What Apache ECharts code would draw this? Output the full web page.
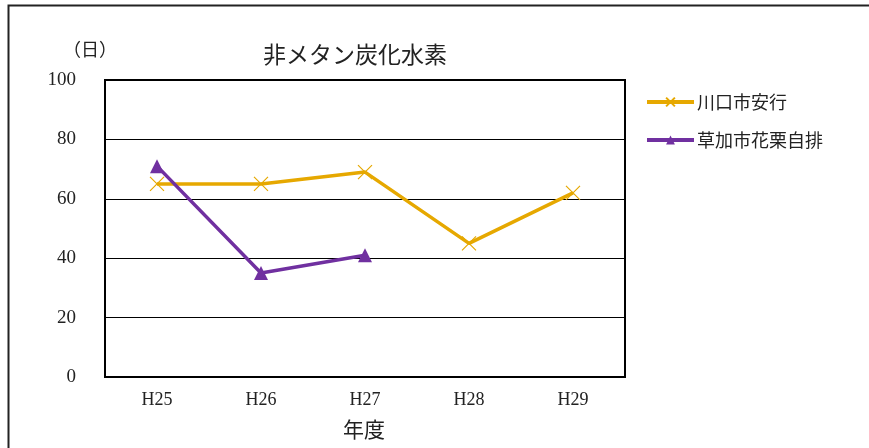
<!DOCTYPE html>
<html><head><meta charset="utf-8">
<script src="https://cdn.jsdelivr.net/npm/echarts@6/dist/echarts.min.js"></script>
<style>html,body{margin:0;padding:0;background:#fff}#c{width:869px;height:448px}</style>
</head><body><div id="c"></div>
<script>
const categories = ['H25','H26','H27','H28','H29'];
const kawaguchi = [65, 65, 69, 45, 62];
const soka = [71, 35, 41, null, null];
const yTicks = {min: 0, max: 100, interval: 20};
const seriesNames = ['川口市安行', '草加市花栗自排'];

const serif = '"Liberation Serif","DejaVu Serif",serif';
const cjk = '"Noto Sans CJK JP","Noto Sans CJK SC",sans-serif';
const chart = echarts.init(document.getElementById('c'));
chart.setOption({
  animation: false,
  backgroundColor: '#fff',
  title: {text: '非メタン炭化水素', left: 350, top: 38, textAlign: 'center',
    textStyle: {fontFamily: cjk, fontSize: 23, fontWeight: 'normal', color: '#222'}},
  graphic: [
    {type: 'rect', shape: {x: 8.5, y: 5.5, width: 900, height: 500}, style: {fill: 'none', stroke: '#222', lineWidth: 2}, z: -1},
    {type: 'text', left: 63, top: 40, style: {text: '（日）', font: '18px ' + cjk, fill: '#222'}},
    {type: 'text', left: 343, top: 419, style: {text: '年度', font: '21px ' + cjk, fill: '#222'}}
  ],
  legend: {orient: 'vertical', left: 640, top: 88, itemWidth: 47, itemHeight: 11, itemGap: 20,
    lineStyle: {width: 4},
    textStyle: {fontFamily: cjk, fontSize: 18, color: '#222', padding: [0, 0, 0, -2]},
    data: seriesNames},
  grid: {left: 105, right: 244, top: 80, bottom: 71, show: true, borderColor: '#000', borderWidth: 2, backgroundColor: 'transparent'},
  xAxis: {type: 'category', data: categories, boundaryGap: true,
    axisLine: {lineStyle: {color: '#000', width: 2}},
    axisTick: {inside: true, length: 6, lineStyle: {color: '#000'}},
    axisLabel: {fontFamily: serif, fontSize: 18, color: '#222', margin: 14}},
  yAxis: {type: 'value', min: yTicks.min, max: yTicks.max, interval: yTicks.interval,
    axisLine: {show: true, lineStyle: {color: '#000', width: 2}},
    axisTick: {show: false},
    splitLine: {lineStyle: {color: '#000', width: 1}},
    axisLabel: {fontFamily: serif, fontSize: 19, color: '#222', margin: 29}},
  series: [
    {name: seriesNames[0], type: 'line', data: kawaguchi,
      symbol: 'path://M0,0 L10,10 M10,0 L0,10', symbolSize: 14,
      lineStyle: {color: '#E6A800', width: 3.5},
      itemStyle: {color: '#E6A800', borderColor: '#E6A800', borderWidth: 1.2}},
    {name: seriesNames[1], type: 'line', data: soka, connectNulls: false,
      symbol: 'triangle', symbolSize: 14,
      lineStyle: {color: '#7030A0', width: 3.5},
      itemStyle: {color: '#7030A0', borderWidth: 0}}
  ]
});
</script></body></html>
